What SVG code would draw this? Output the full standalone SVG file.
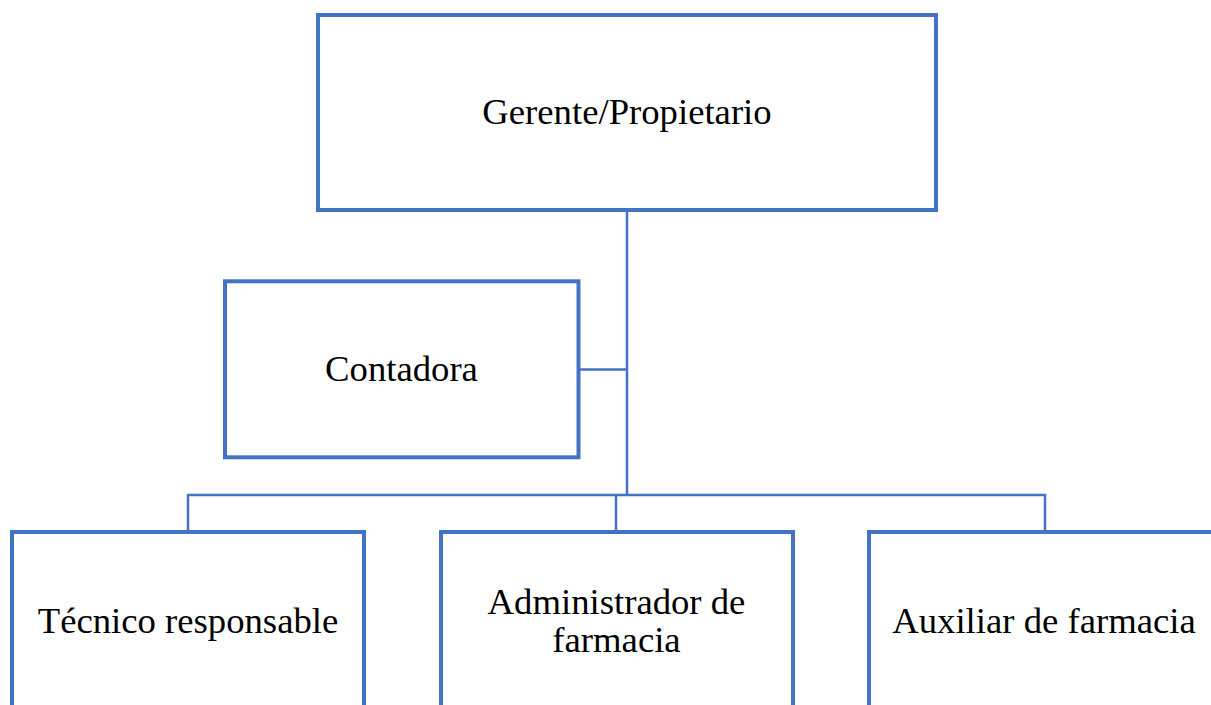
<svg xmlns="http://www.w3.org/2000/svg" width="1211" height="705" viewBox="0 0 1211 705">
<style>
.box{fill:#ffffff;stroke:#4472C4;stroke-width:4}
.con{fill:none;stroke:#4472C4;stroke-width:2.5}
.t{font-family:"Liberation Serif","Times New Roman",serif;font-size:36.7px;fill:#000;text-anchor:middle}
</style>
<rect width="1211" height="705" fill="#ffffff"/>
<g id="connectors">
<path class="con" d="M627 210 V495"/>
<path class="con" d="M578 369.5 H627"/>
<path class="con" d="M188 531 V495 H1045 V531"/>
<path class="con" d="M616 495 V531"/>
</g>
<g id="gerente">
<rect class="box" x="318" y="15" width="618" height="195"/>
<text class="t" x="627" y="124">Gerente/Propietario</text>
</g>
<g id="contadora">
<rect class="box" x="225" y="281.3" width="353.5" height="176"/>
<text class="t" x="401.5" y="381">Contadora</text>
</g>
<g id="tecnico">
<rect class="box" x="12" y="532" width="352" height="190"/>
<text class="t" x="188" y="633">Técnico responsable</text>
</g>
<g id="administrador">
<rect class="box" x="441" y="532" width="352" height="190"/>
<text class="t" x="616.5" y="614">Administrador de</text>
<text class="t" x="616.5" y="652">farmacia</text>
</g>
<g id="auxiliar">
<rect class="box" x="869" y="532" width="352" height="190"/>
<text class="t" x="1044" y="633">Auxiliar de farmacia</text>
</g>
</svg>
